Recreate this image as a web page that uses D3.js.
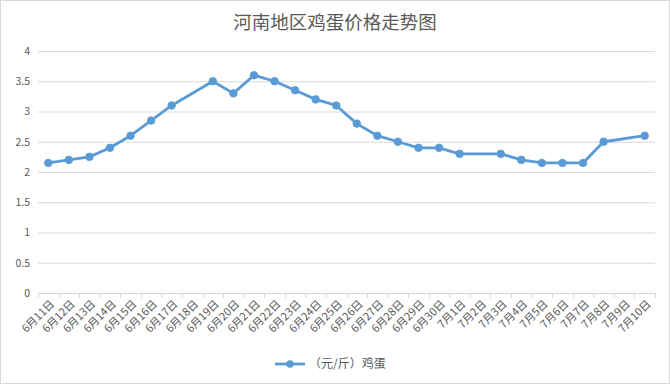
<!DOCTYPE html>
<html><head><meta charset="utf-8">
<script src="https://cdn.jsdelivr.net/npm/d3@7"></script>
<style>body{margin:0;background:#fff;}svg{display:block;}</style>
</head><body>
<script>
const categories = ["6月11日","6月12日","6月13日","6月14日","6月15日","6月16日","6月17日","6月18日","6月19日","6月20日","6月21日","6月22日","6月23日","6月24日","6月25日","6月26日","6月27日","6月28日","6月29日","6月30日","7月1日","7月2日","7月3日","7月4日","7月5日","7月6日","7月7日","7月8日","7月9日","7月10日"];
const prices = [2.15,2.2,2.25,2.4,2.6,2.85,3.1,null,3.5,3.3,3.6,3.5,3.35,3.2,3.1,2.8,2.6,2.5,2.4,2.4,2.3,null,2.3,2.2,2.15,2.15,2.15,2.5,null,2.6];
const yTicks = [0,0.5,1,1.5,2,2.5,3,3.5,4];
const title = "河南地区鸡蛋价格走势图";
const seriesName = "（元/斤）鸡蛋";

const W=670,H=384;
const font = "'Noto Sans CJK SC','Microsoft YaHei',sans-serif";
const svg = d3.select("body").append("svg").attr("width",W).attr("height",H);
svg.append("rect").attr("x",0.5).attr("y",0.5).attr("width",W-1).attr("height",H-1).attr("fill","#fff").attr("stroke","#d9d9d9");

const pL=38,pR=655,pT=51,pB=293;
const x = d3.scaleBand().domain(categories).range([pL,pR]);
const y = d3.scaleLinear().domain([0,4]).range([pB,pT]);

svg.append("text").attr("x",W/2).attr("y",29).attr("text-anchor","middle")
  .attr("font-family",font).attr("font-size",18.5).attr("fill","#595959").text(title);

// grid
const yAxis = d3.axisLeft(y).tickValues(yTicks).tickSize(-(pR-pL)).tickFormat(d3.format("~g")).tickPadding(8);
const gy = svg.append("g").attr("transform",`translate(${pL},0)`).call(yAxis);
gy.select(".domain").remove();
gy.selectAll(".tick line").attr("stroke","#d9d9d9").attr("stroke-width",1);
gy.selectAll(".tick text").attr("font-family",font).attr("font-size",10.5).attr("fill","#595959");

// x axis
const gx = svg.append("g").attr("transform",`translate(0,${pB})`);
gx.append("line").attr("x1",pL).attr("x2",pR).attr("y1",0.5).attr("y2",0.5).attr("stroke","#d9d9d9");
const bounds = categories.map(c=>x(c)).concat([pR]);
gx.selectAll("line.tk").data(bounds).join("line").attr("class","tk")
  .attr("x1",d=>Math.round(d)+0.5).attr("x2",d=>Math.round(d)+0.5).attr("y1",0).attr("y2",5).attr("stroke","#d9d9d9");
gx.selectAll("text").data(categories).join("text")
  .attr("transform",d=>`translate(${x(d)+x.bandwidth()/2+4},${9}) rotate(-45)`)
  .attr("text-anchor","end").attr("dy","0.35em")
  .attr("font-family",font).attr("font-size",11).attr("fill","#595959").text(d=>d);

// line
const pts = categories.map((c,i)=>({c,v:prices[i]})).filter(d=>d.v!=null);
const line = d3.line().x(d=>x(d.c)+x.bandwidth()/2).y(d=>y(d.v));
svg.append("path").datum(pts).attr("d",line).attr("fill","none").attr("stroke","#5b9bd5").attr("stroke-width",2.8).attr("stroke-linejoin","round");
svg.selectAll("circle.pt").data(pts).join("circle").attr("class","pt")
  .attr("cx",d=>x(d.c)+x.bandwidth()/2).attr("cy",d=>y(d.v)).attr("r",3.8).attr("fill","#5b9bd5").attr("stroke","#5b9bd5").attr("stroke-width",0.8);

// legend
const lg = svg.append("g").attr("transform","translate(275,364)");
lg.append("line").attr("x1",0).attr("x2",30).attr("y1",0).attr("y2",0).attr("stroke","#5b9bd5").attr("stroke-width",2.8);
lg.append("circle").attr("cx",15).attr("cy",0).attr("r",3.8).attr("fill","#5b9bd5");
lg.append("text").attr("x",34).attr("y",0).attr("dy","0.35em").attr("font-family",font).attr("font-size",12).attr("fill","#595959").text(seriesName);
</script>
</body></html>
